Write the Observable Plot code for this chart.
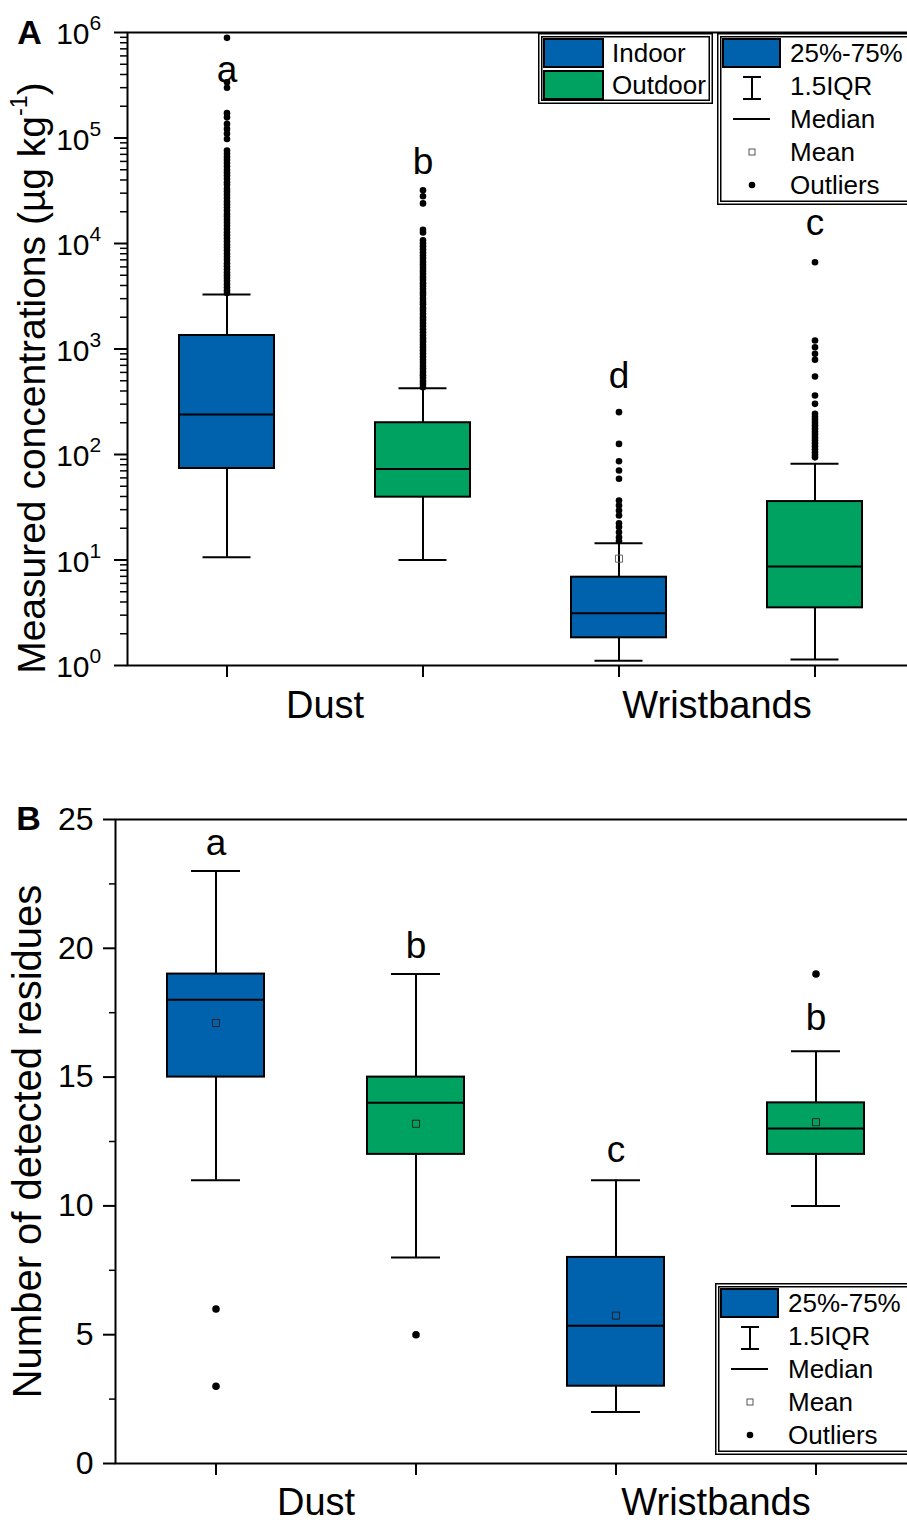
<!DOCTYPE html>
<html><head><meta charset="utf-8">
<script src="https://cdn.jsdelivr.net/npm/d3@7"></script>
<script src="https://cdn.jsdelivr.net/npm/@observablehq/plot@0.6"></script>
<style>
body{margin:0;background:#fff;font-family:"Liberation Sans",Arial,sans-serif;}
#wrap{position:relative;width:907px;height:1523px;overflow:hidden;background:#fff;}
#wrap > svg{display:block;}
</style></head><body><div id="wrap"></div>
<script>
// ---------- shared categories ----------
const groups = ["Dust|Indoor", "Dust|Outdoor", "Wristbands|Indoor", "Wristbands|Outdoor"];
const locations = ["Indoor", "Outdoor", "Indoor", "Outdoor"];
const sampleTypes = ["Dust", "Wristbands"];
const sampleFirstGroup = ["Dust|Indoor", "Wristbands|Indoor"];
const locationDomain = ["Indoor", "Outdoor"];
const locationColors = ["#0061ad", "#00a262"];

// ---------- panel A: measured concentrations (µg/kg) ----------
const concLow = [10.6, 10.0, 1.11, 1.14];
const concQ1 = [73.7, 39.4, 1.83, 3.52];
const concMedian = [239, 73, 3.13, 8.68];
const concQ3 = [1343, 200, 6.87, 35.8];
const concHigh = [3288, 425, 14.4, 81.6];
const concMean = [null, null, 10.3, null];
const concLetters = ["a", "b", "d", "c"];
const concLetterY = [4.4e5, 5.9e4, 555, 1.55e4];
const concOutliers = [
  [890000, 337000, 299000, 172000, 157000, 136000, 122000, 110000, 98000, 76000, 71000,
   66000, 62000, 58000, 54000, 50000, 47000, 44000, 41000, 38000, 36000, 33000, 31000, 29000,
   27000, 25000, 23500, 22000, 20500, 19000, 18000, 16800, 15700, 14700, 13700, 12800, 12000,
   11200, 10500, 9800, 9200, 8600, 8000, 7500, 7000, 6500, 6100, 5700, 5300, 5000, 4700, 4400,
   4100, 3850, 3600, 3400],
  [32000, 28000, 24000, 13500, 12700,
   10700, 10000, 9400, 8800, 8200, 7700, 7200, 6700, 6300, 5900, 5500, 5150, 4800, 4500, 4200,
   3950, 3700, 3450, 3250, 3000, 2800, 2650, 2450, 2300, 2150, 2000, 1880, 1760, 1650, 1540,
   1440, 1350, 1260, 1180, 1100, 1030, 965, 900, 845, 790, 740, 690, 645, 605, 565, 530, 495,
   465, 435],
  [252, 126, 86.4, 70.5, 58.9, 36.6, 32.9, 29.5, 26.4, 22.3, 20.5, 18.3, 16.4, 15.1],
  [6650, 1205, 1040, 900, 790, 548, 362, 302,
   243, 228, 214, 200, 188, 176, 165, 155, 145, 136, 128, 120, 112, 105, 99, 94]
];
const concTicks = [1, 10, 100, 1000, 10000, 100000, 1000000];
const concTickExponents = ["0", "1", "2", "3", "4", "5", "6"];

// ---------- panel B: number of detected residues ----------
const resLow = [11, 8, 2, 10];
const resQ1 = [15, 12, 3, 12];
const resMedian = [18, 14, 5.35, 13];
const resQ3 = [19, 15, 8, 14];
const resHigh = [23, 19, 11, 16];
const resMean = [17.1, 13.19, 5.74, 13.25];
const resLetters = ["a", "b", "c", "b"];
const resLetterY = [24.1, 20.1, 12.15, 17.27];
const resOutliers = [[6, 3], [5], [], [19]];
const resTicks = [0, 5, 10, 15, 20, 25];
const resMinorTicks = [2.5, 7.5, 12.5, 17.5, 22.5];

const FONT = '"Liberation Sans", Arial, sans-serif';

function rowsOf(low, q1, med, q3, high, mean, letters, letterY) {
  return groups.map((g, i) => ({group: g, location: locations[i], low: low[i], q1: q1[i], median: med[i],
    q3: q3[i], high: high[i], mean: mean[i], letter: letters[i], letterY: letterY[i]}));
}
function outliersOf(list) {
  return groups.flatMap((g, i) => list[i].map(v => ({group: g, value: v})));
}
const catRows = sampleTypes.map((s, i) => ({label: s, group: sampleFirstGroup[i]}));

function boxMarks(rows, outs, capInset, dotR, meanStroke) {
  return [
    Plot.ruleX(rows, {x: "group", y1: "low", y2: "q1", strokeWidth: 2}),
    Plot.ruleX(rows, {x: "group", y1: "q3", y2: "high", strokeWidth: 2}),
    Plot.tickY(rows, {x: "group", y: "low", insetLeft: capInset, insetRight: capInset, strokeWidth: 2}),
    Plot.tickY(rows, {x: "group", y: "high", insetLeft: capInset, insetRight: capInset, strokeWidth: 2}),
    Plot.barY(rows, {x: "group", y1: "q1", y2: "q3", fill: "location", stroke: "black", strokeWidth: 2}),
    Plot.tickY(rows, {x: "group", y: "median", strokeWidth: 2}),
    Plot.dot(outs, {x: "group", y: "value", r: dotR, fill: "black", stroke: "none"}),
    Plot.dot(rows.filter(d => d.mean != null), {x: "group", y: "mean", symbol: "square", r: 4,
      stroke: meanStroke, fill: "none", strokeWidth: 1}),
    Plot.text(rows, {x: "group", y: "letterY", text: "letter", fontSize: 37, lineAnchor: "middle"})
  ];
}

// ---------- Panel A ----------
const rowsA = rowsOf(concLow, concQ1, concMedian, concQ3, concHigh, concMean, concLetters, concLetterY);
const outA = outliersOf(concOutliers);
const minorA = [];
for (let k = 0; k < 6; k++) for (let m = 2; m <= 9; m++) minorA.push(m * Math.pow(10, k));

const plotA = Plot.plot({
  width: 907, height: 760,
  marginTop: 32, marginBottom: 95, marginLeft: 127, marginRight: -3,
  style: {fontFamily: FONT, background: "transparent", color: "black", overflow: "visible"},
  x: {type: "band", domain: groups, range: [178.5, 862.5], paddingInner: 0.516, paddingOuter: 0, axis: null},
  y: {type: "log", domain: [1, 1e6], axis: null},
  color: {domain: locationDomain, range: locationColors},
  marks: [
    ...boxMarks(rowsA, outA, 23.5, 3.3, "#666"),
    Plot.axisX({tickSize: 12, tickFormat: () => "", strokeWidth: 2, label: null}),
    Plot.axisY(concTicks, {tickSize: 13, tickFormat: () => "", strokeWidth: 2, label: null}),
    Plot.axisY(minorA, {tickSize: 7, tickFormat: () => "", strokeWidth: 1.5, label: null}),
    Plot.text(concTicks, {y: d => d, text: () => "10", frameAnchor: "left", dx: -38, dy: 2,
      textAnchor: "end", lineAnchor: "middle", fontSize: 30}),
    Plot.text(concTicks, {y: d => d, text: (d, i) => concTickExponents[i], frameAnchor: "left", dx: -38, dy: -9,
      textAnchor: "start", lineAnchor: "middle", fontSize: 21}),
    Plot.frame({strokeWidth: 2}),
    Plot.text(catRows, {x: "group", text: "label", frameAnchor: "bottom", dx: 98, dy: 40,
      textAnchor: "middle", lineAnchor: "middle", fontSize: 38}),
    Plot.text(["A"], {frameAnchor: "top-left", dx: -98, dy: 1, textAnchor: "middle", lineAnchor: "middle",
      fontWeight: "bold", fontSize: 34}),
    Plot.text(["Measured concentrations (µg kg"], {frameAnchor: "left", rotate: -90, dx: -95, dy: 29,
      textAnchor: "middle", lineAnchor: "middle", fontSize: 39})
  ]
});
// superscript in y-axis title
d3.select(plotA).selectAll("text").filter(function () {
  return this.textContent.startsWith("Measured");
}).each(function () {
  const t = d3.select(this);
  const base = this.textContent;
  t.text(null);
  t.append("tspan").text(base);
  t.append("tspan").attr("dy", "-0.75em").attr("font-size", "0.6em").text("-1");
  t.append("tspan").attr("dy", "0.45em").text(")");
});

// ---------- Panel B ----------
const rowsB = rowsOf(resLow, resQ1, resMedian, resQ3, resHigh, resMean, resLetters, resLetterY);
const outB = outliersOf(resOutliers);

const plotB = Plot.plot({
  width: 907, height: 763,
  marginTop: 59, marginBottom: 60, marginLeft: 115, marginRight: -3,
  style: {fontFamily: FONT, background: "transparent", color: "black", overflow: "visible"},
  x: {type: "band", domain: groups, range: [167, 864], paddingInner: 0.5155, paddingOuter: 0, axis: null},
  y: {domain: [0, 25], axis: null},
  color: {domain: locationDomain, range: locationColors},
  marks: [
    ...boxMarks(rowsB, outB, 24, 3.8, "#222"),
    Plot.axisX({tickSize: 12, tickFormat: () => "", strokeWidth: 2, label: null}),
    Plot.axisY(resTicks, {tickSize: 12, tickPadding: 10, strokeWidth: 2, fontSize: 32, label: null}),
    Plot.axisY(resMinorTicks, {tickSize: 6, tickFormat: () => "", strokeWidth: 1.5, label: null}),
    Plot.frame({strokeWidth: 2}),
    Plot.text(catRows, {x: "group", text: "label", frameAnchor: "bottom", dx: 100, dy: 39,
      textAnchor: "middle", lineAnchor: "middle", fontSize: 38}),
    Plot.text(["B"], {frameAnchor: "top-left", dx: -87, dy: 0, textAnchor: "middle", lineAnchor: "middle",
      fontWeight: "bold", fontSize: 34}),
    Plot.text(["Number of detected residues"], {frameAnchor: "left", rotate: -90, dx: -87,
      textAnchor: "middle", lineAnchor: "middle", fontSize: 40})
  ]
});

const wrap = document.getElementById("wrap");
wrap.appendChild(plotA);
wrap.appendChild(plotB);

// ---------- legends ----------
function doubleBox(svg, w, h) {
  svg.append("rect").attr("x", 0.75).attr("y", 0.75).attr("width", w - 1.5).attr("height", h - 1.5)
    .attr("fill", "white").attr("stroke", "black").attr("stroke-width", 1.5);
  svg.append("rect").attr("x", 3.75).attr("y", 3.75).attr("width", w - 7.5).attr("height", h - 7.5)
    .attr("fill", "none").attr("stroke", "black").attr("stroke-width", 1.5);
}
function legendSvg(left, top, w, h) {
  const svg = d3.select(wrap).append("svg").attr("width", w).attr("height", h)
    .style("position", "absolute").style("left", left + "px").style("top", top + "px")
    .style("font-family", FONT).style("font-size", "26px");
  doubleBox(svg, w, h);
  return svg;
}
function locationLegend(left, top) {
  const svg = legendSvg(left, top, 175, 71);
  locationDomain.forEach((name, i) => {
    svg.append("rect").attr("x", 6).attr("y", 6 + i * 32).attr("width", 59).attr("height", 28)
      .attr("fill", locationColors[i]).attr("stroke", "black").attr("stroke-width", 2);
    svg.append("text").attr("x", 74).attr("y", 29 + i * 32).text(name);
  });
}
function statsLegend(left, top) {
  const svg = legendSvg(left, top, 200, 172);
  const tx = 73;
  svg.append("rect").attr("x", 6).attr("y", 6).attr("width", 57).attr("height", 28)
    .attr("fill", locationColors[0]).attr("stroke", "black").attr("stroke-width", 2);
  svg.append("text").attr("x", tx).attr("y", 29).text("25%-75%");
  const g = svg.append("g").attr("stroke", "black").attr("stroke-width", 2);
  g.append("line").attr("x1", 35).attr("x2", 35).attr("y1", 44).attr("y2", 66);
  g.append("line").attr("x1", 26).attr("x2", 44).attr("y1", 44).attr("y2", 44);
  g.append("line").attr("x1", 26).attr("x2", 44).attr("y1", 66).attr("y2", 66);
  svg.append("text").attr("x", tx).attr("y", 62).text("1.5IQR");
  g.append("line").attr("x1", 16).attr("x2", 53).attr("y1", 86).attr("y2", 86);
  svg.append("text").attr("x", tx).attr("y", 95).text("Median");
  svg.append("rect").attr("x", 32).attr("y", 116).attr("width", 6).attr("height", 6)
    .attr("fill", "none").attr("stroke", "#555").attr("stroke-width", 1);
  svg.append("text").attr("x", tx).attr("y", 128).text("Mean");
  svg.append("circle").attr("cx", 35).attr("cy", 152).attr("r", 3.3).attr("fill", "black");
  svg.append("text").attr("x", tx).attr("y", 161).text("Outliers");
}
locationLegend(538, 33);
statsLegend(717, 33);
statsLegend(715, 760 + 523);
</script></body></html>
